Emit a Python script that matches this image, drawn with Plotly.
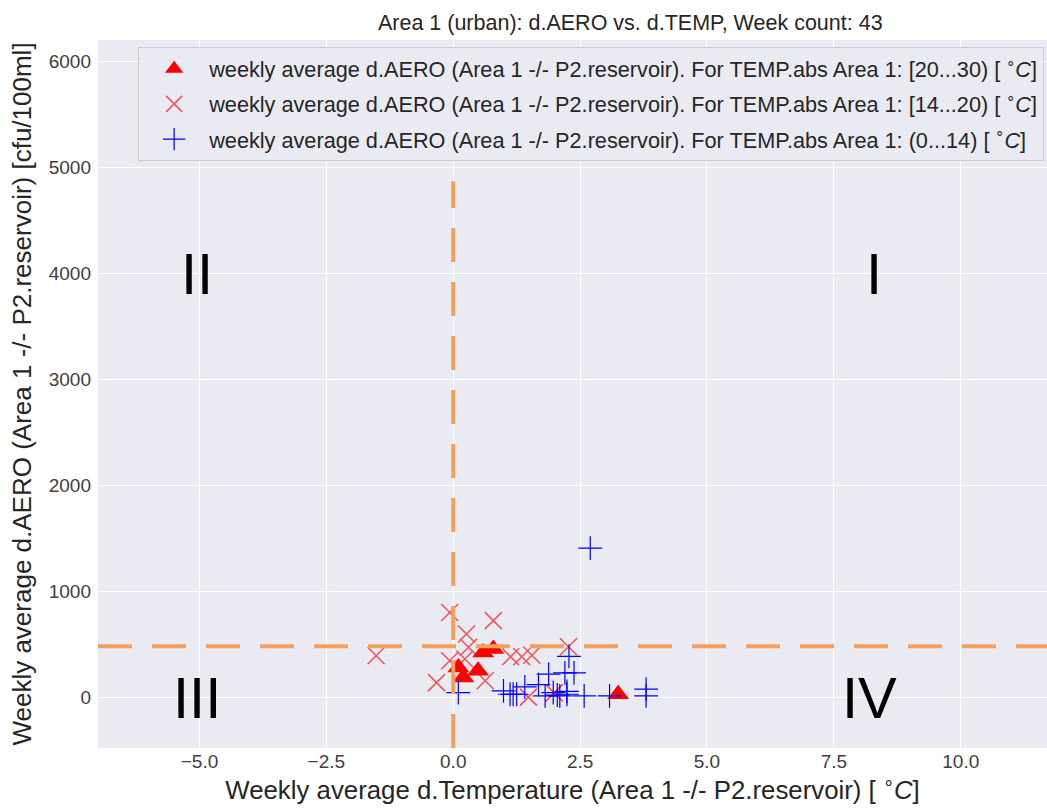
import plotly.graph_objects as go

# Weekly averages, grouped by absolute temperature band in Area 1
d_temp_20_30 = [0.79, 0.59, 0.10, 0.49, 0.20, 3.25]
d_aero_20_30 = [454, 422, 280, 248, 185, 27]

d_temp_14_20 = [-0.07, 0.79, 0.26, 0.30, 2.27, -0.07, 0.23, -0.33, 0.63,
                1.13, 1.35, 1.55, 1.48, 1.99, -1.52]
d_aero_14_20 = [798, 722, 596, 470, 476, 343, 359, 137, 154,
                381, 381, 395, 0, 40, 390]

d_temp_0_14 = [2.70, 2.28, 1.88, 2.20, 2.38, 0.10, 0.99, 1.12, 1.18, 1.25, 1.41,
               1.68, 1.81, 1.97, 2.10, 2.24, 2.24, 2.58, 3.08, 3.80, 3.80, 2.05]
d_aero_0_14 = [1405, 385, 217, 228, 228, 43, 59, 27, 27, 27, 97,
               118, 11, 43, 11, 27, 55, 11, 11, 75, 11, 20]

aero_threshold = 480
quadrant_labels = ["I", "II", "III", "IV"]
quadrant_x = [8.3, -5.05, -5.05, 8.2]
quadrant_y = [4000, 4000, 0, 0]

x_range = [-7.0, 11.7]
y_range = [-480, 6200]

FONT = "Liberation Sans, Arial, sans-serif"
deg = "[ <sup>∘</sup><i>C</i>]"
base = "weekly average d.AERO (Area 1 -/- P2.reservoir). For TEMP.abs Area 1: "

fig = go.Figure()
fig.add_trace(go.Scatter(
    x=d_temp_20_30, y=d_aero_20_30, mode="markers",
    name=base + "[20...30) " + deg, legendgroup="a",
    marker=dict(symbol="triangle-up", size=19, color="#FF0000"),
))
fig.add_trace(go.Scatter(
    x=d_temp_14_20, y=d_aero_14_20, mode="markers",
    name=base + "[14...20) " + deg, legendgroup="b",
    opacity=0.65,
    marker=dict(symbol="x-thin", size=17, color="#FF0000",
                line=dict(color="#FF0000", width=1.5)),
))
fig.add_trace(go.Scatter(
    x=d_temp_0_14, y=d_aero_0_14, mode="markers",
    name=base + "(0...14) " + deg, legendgroup="c",
    marker=dict(symbol="cross-thin", size=17, color="#0000FF",
                line=dict(color="#0000FF", width=1.2)),
))

dash_style = dict(color="#F4A05A", width=4, dash="34px,20px")
# horizontal threshold across the full width
fig.add_shape(type="line", xref="x domain", yref="y", x0=0, x1=1,
              y0=aero_threshold, y1=aero_threshold, line=dash_style)
# vertical zero-temperature divider, bottom 80% of the axes
fig.add_shape(type="line", xref="x", yref="y domain", x0=0, x1=0,
              y0=0, y1=0.8, line=dash_style)

for lbl, qx, qy in zip(quadrant_labels, quadrant_x, quadrant_y):
    fig.add_annotation(x=qx, y=qy, text=lbl, showarrow=False,
                       font=dict(size=58, color="black", family=FONT))

fig.update_layout(
    width=1047, height=809,
    margin=dict(l=98, r=0, t=40, b=61),
    paper_bgcolor="white", plot_bgcolor="#EAEAF2",
    font=dict(family=FONT, color="#262626"),
    title=dict(text="Area 1 (urban): d.AERO vs. d.TEMP, Week count: 43",
               x=0.602, xref="container", xanchor="center", y=0.972, yanchor="middle",
               font=dict(size=21.5, color="#262626")),
    legend=dict(x=0.997, y=0.99, xanchor="right", yanchor="top",
                bgcolor="rgba(234,234,242,0.85)", bordercolor="#CCCCCC",
                borderwidth=1, font=dict(size=21.7, color="#262626"),
                traceorder="grouped", tracegroupgap=4, itemwidth=60),
    showlegend=True,
)
fig.update_xaxes(range=x_range, tickvals=[-5, -2.5, 0, 2.5, 5, 7.5, 10],
                 ticktext=["\u22125.0", "\u22122.5", "0.0", "2.5", "5.0", "7.5", "10.0"],
                 showgrid=True, gridcolor="white", gridwidth=1.2, zeroline=False,
                 showline=False, tickfont=dict(size=19, color="#404040"), ticks="",
                 title=dict(text="Weekly average d.Temperature (Area 1 -/- P2.reservoir) " + deg,
                            font=dict(size=25.8, color="#262626"), standoff=5))
fig.update_yaxes(range=y_range, tickvals=[0, 1000, 2000, 3000, 4000, 5000, 6000],
                 showgrid=True, gridcolor="white", gridwidth=1.2, zeroline=False,
                 showline=False, tickfont=dict(size=19, color="#404040"), ticks="",
                 ticklabelstandoff=6,
                 title=dict(text="Weekly average d.AERO (Area 1 -/- P2.reservoir) [cfu/100ml]",
                            font=dict(size=26, color="#262626"), standoff=9))

fig.write_html("out.html")
